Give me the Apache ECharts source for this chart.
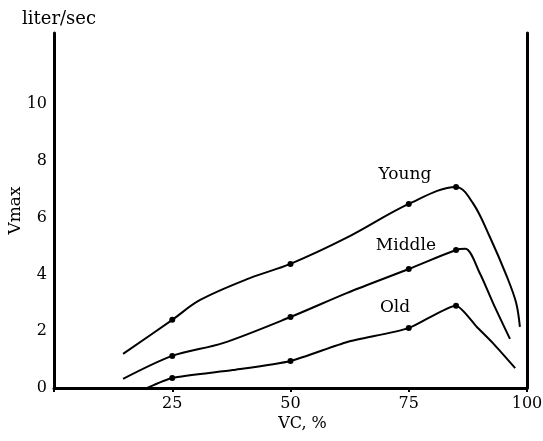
<!DOCTYPE html>
<html>
<head>
<meta charset="utf-8">
<script src="https://cdn.jsdelivr.net/npm/echarts@6/dist/echarts.min.js"></script>
<style>html,body{margin:0;padding:0;background:#fff}#c{width:543px;height:441px}</style>
</head>
<body>
<div id="c"></div>
<script>
// Curve traces [VC %, Vmax liter/sec]
var youngCurve = [[14.6,1.2],[25,2.4],[30.9,3.1],[41.4,3.87],[50,4.37],[62,5.3],[75,6.48],[85,7.08],[88.6,6.5],[92.2,5.3],[95.8,3.9],[97.7,3.0],[98.5,2.15]];
var middleCurve = [[14.6,0.32],[25,1.13],[35.7,1.58],[50,2.5],[62,3.35],[75,4.19],[85,4.86],[87,4.9],[90,4.05],[92.8,3.0],[96.4,1.73]];
var oldCurve = [[19.7,0.0],[25,0.35],[37.8,0.63],[50,0.95],[62,1.62],[75,2.11],[85,2.9],[89.4,2.15],[92.8,1.58],[97.5,0.7]];
// Marked measurement points
var youngDots = [[25,2.4],[50,4.37],[75,6.48],[85,7.08]];
var middleDots = [[25,1.13],[50,2.5],[75,4.19],[85,4.86]];
var oldDots = [[25,0.35],[50,0.95],[75,2.11],[85,2.9]];
// Curve labels
var curveLabels = [{name:'Young', at:[74.2,7.5]}, {name:'Middle', at:[74.4,5.03]}, {name:'Old', at:[72.1,2.82]}];
var xTicks = [25,50,75,100];
var yTicks = [0,2,4,6,8,10];

var F = 'DejaVu Serif, Liberation Serif, serif';
var chart = echarts.init(document.getElementById('c'));
function lineSeries(d, s){
  return {type:'line', data:d, smooth:s, showSymbol:false, symbol:'none',
    lineStyle:{color:'#000', width:2}, z:3, animation:false};
}
function dotSeries(d){
  return {type:'scatter', data:d, symbol:'circle', symbolSize:6,
    itemStyle:{color:'#000', opacity:1}, z:4, animation:false};
}
chart.setOption({
  animation:false,
  grid:{left:54, right:16, top:33, bottom:53, containLabel:false, outerBoundsMode:'none'},
  xAxis:{type:'value', min:0, max:100, interval:25,
    name:'VC, %', nameLocation:'middle', nameGap:28, nameMoveOverlap:false,
    nameTextStyle:{fontFamily:F, fontSize:16, color:'#000', padding:[0,0,0,24]},
    axisLine:{show:true, lineStyle:{color:'#000', width:3}},
    axisTick:{show:true, length:4, lineStyle:{color:'#000', width:2}},
    axisLabel:{fontFamily:F, fontSize:16, color:'#000', margin:8,
      formatter:function(v){return xTicks.indexOf(v)>=0 ? String(v) : '';}},
    splitLine:{show:false}},
  yAxis:[{type:'value', min:0, max:12.5, interval:2,
    name:'Vmax', nameLocation:'middle', nameGap:30, nameRotate:90, nameMoveOverlap:false,
    nameTextStyle:{fontFamily:F, fontSize:17, color:'#000'},
    axisLine:{show:true, lineStyle:{color:'#000', width:3}},
    axisTick:{show:false},
    axisLabel:{fontFamily:F, fontSize:16, color:'#000', margin:7, showMaxLabel:false,
      formatter:function(v){return yTicks.indexOf(v)>=0 ? String(v) : '';}},
    splitLine:{show:false}},
   {type:'value', min:0, max:12.5, position:'right',
    axisLine:{show:true, onZero:false, lineStyle:{color:'#000', width:3}},
    axisTick:{show:false}, axisLabel:{show:false}, splitLine:{show:false}}],
  graphic:[{type:'text', left:22, top:10,
    style:{text:'liter/sec', font:'18px '+F, fill:'#000'}}],
  series:[
    lineSeries(youngCurve, 0.35), lineSeries(middleCurve, 0.3), lineSeries(oldCurve, 0.2),
    dotSeries(youngDots), dotSeries(middleDots), dotSeries(oldDots),
    {type:'scatter', symbolSize:0, data:curveLabels.map(function(l){return {value:l.at, name:l.name};}),
     label:{show:true, position:'inside', formatter:'{b}', fontFamily:F, fontSize:17, color:'#000', opacity:1},
     itemStyle:{color:'#000', opacity:1}, z:5}
  ]
});
</script>
</body>
</html>
